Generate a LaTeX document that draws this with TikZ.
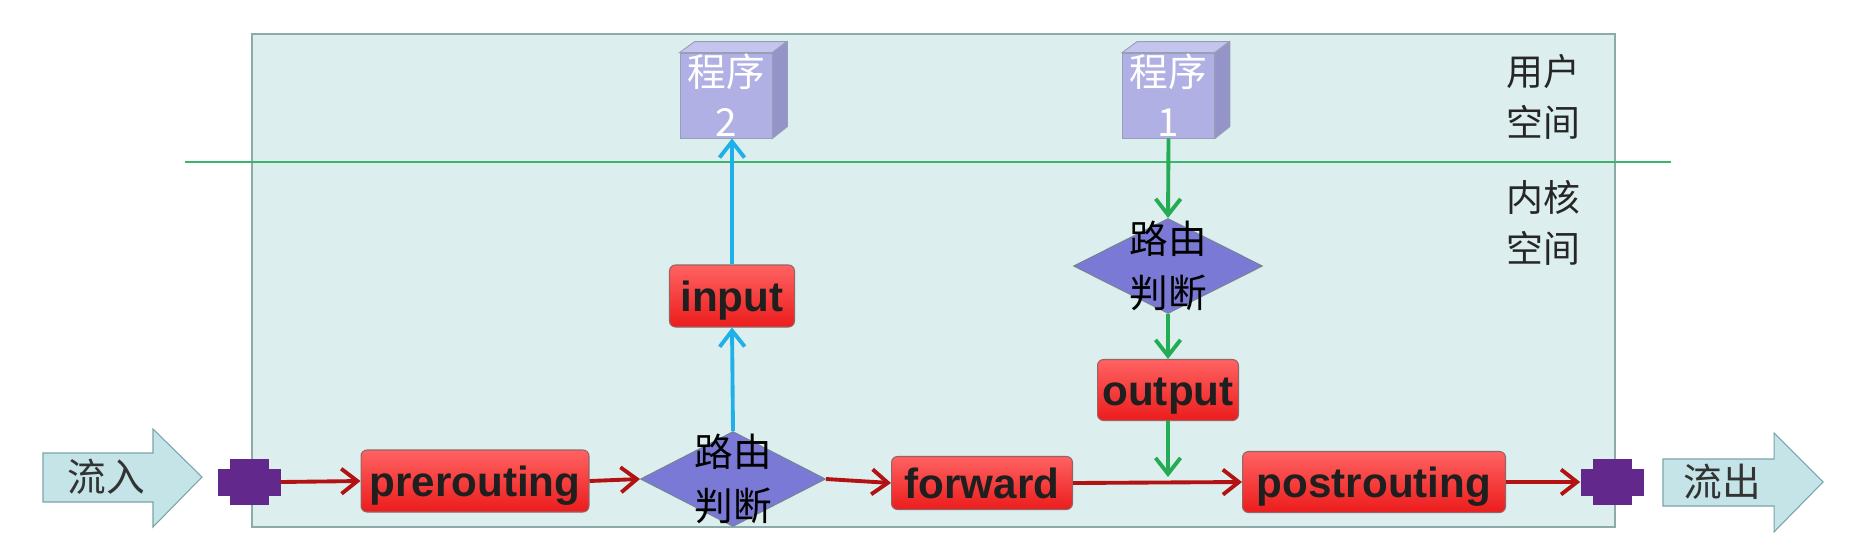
\documentclass[tikz,border=0pt]{standalone}
\usepackage{fontspec}
\setmainfont{Liberation Sans}
\newfontfamily\cjk{Noto Sans CJK SC}
\usetikzlibrary{arrows.meta,shapes.geometric,calc}
\definecolor{boxfill}{RGB}{220,238,238}
\definecolor{boxline}{RGB}{140,170,170}
\definecolor{redtop}{RGB}{255,98,98}
\definecolor{redbot}{RGB}{236,28,28}
\definecolor{redline}{RGB}{150,100,100}
\definecolor{diafill}{RGB}{122,122,214}
\definecolor{diagrey}{RGB}{120,130,150}
\definecolor{cfront}{RGB}{176,176,228}
\definecolor{ctop}{RGB}{196,196,238}
\definecolor{cside}{RGB}{148,148,200}
\definecolor{cline}{RGB}{150,160,180}
\definecolor{arrred}{RGB}{178,18,18}
\definecolor{arrblue}{RGB}{30,176,232}
\definecolor{arrgreen}{RGB}{36,172,84}
\definecolor{divgreen}{RGB}{60,180,110}
\definecolor{flowfill}{RGB}{196,228,232}
\definecolor{flowline}{RGB}{120,165,170}
\definecolor{purp}{RGB}{98,40,140}
\begin{document}
\begin{tikzpicture}[x=0.02cm,y=-0.02cm,
  redbox/.style={rectangle, rounded corners=0.12cm, top color=redtop, bottom color=redbot,
    draw=redline, line width=0.6pt, inner sep=0, text height=0.78cm, text depth=0.18cm,
    font=\bfseries\fontsize{24}{28}\selectfont, text=black!88},
  dia/.style={diamond, draw=diagrey, fill=diafill, inner sep=0, line width=0.6pt},
  diatext/.style={align=center, font=\cjk\fontsize{22}{31}\selectfont, text=black},
  cubebox/.style={rectangle, fill=cfront, draw=cline, line width=0.5pt, inner sep=0,
    minimum width=1.84cm, minimum height=1.7cm},
  cubetext/.style={align=center, font=\cjk\fontsize{22}{28.5}\selectfont, text=white},
  sidetext/.style={align=center, font=\cjk\fontsize{21}{29}\selectfont, text=black!85},
  flowtext/.style={font=\cjk\fontsize{22}{26}\selectfont, text=black!80},
  anchorbox/.style={rectangle, inner sep=0, minimum width=1.26cm, minimum height=0.92cm},
  arrowtip/.style={-{Straight Barb[length=3.2mm,width=5mm]}},
  redarrow/.style={draw=arrred, line width=2.2pt, arrowtip},
  bluearrow/.style={draw=arrblue, line width=2.2pt, arrowtip},
  greenarrow/.style={draw=arrgreen, line width=2.2pt, arrowtip}
]
\useasboundingbox (0,0) rectangle (1875,552);

% main area
\draw[fill=boxfill, draw=boxline, line width=0.6pt] (252,34) rectangle (1615,527);
% divider between user and kernel space
\draw[divgreen, line width=1.4pt] (185,162) -- (1671,162);

% side labels
\node[sidetext] (user) at (1543,97) {用户\\空间};
\node[sidetext] (kern) at (1543,223) {内核\\空间};

% inflow / outflow block arrows
\draw[fill=flowfill, draw=flowline, line width=0.6pt]
  (43,453) -- (153,453) -- (153,429) -- (202,477) -- (153,527) -- (153,502) -- (43,502) -- cycle;
\node[flowtext] (in) at (106,477) {流入};
\draw[fill=flowfill, draw=flowline, line width=0.6pt]
  (1663,459) -- (1774,459) -- (1774,433) -- (1823,482) -- (1774,532) -- (1774,506) -- (1663,506) -- cycle;
\node[flowtext] (out) at (1722,482) {流出};

% purple connectors
\node[anchorbox] (plusL) at (249,482) {};
\node[anchorbox] (plusR) at (1612,482) {};
\foreach \c in {plusL,plusR}{
  \fill[purp] ($(\c.center)+(-19.5,-23)$) rectangle ($(\c.center)+(19.5,23)$);
  \fill[purp] ($(\c.center)+(-31.5,-13.5)$) rectangle ($(\c.center)+(31.5,13.5)$);
}

% programs (cubes)
\node[cubebox] (p2) at (726,95.5) {};
\node[cubebox] (p1) at (1168.5,95.5) {};
\foreach \c in {p1,p2}{
  \filldraw[fill=ctop, draw=cline, line width=0.5pt] (\c.north west) -- ++(15,-11) -- ++(92,0) -- (\c.north east) -- cycle;
  \filldraw[fill=cside, draw=cline, line width=0.5pt] (\c.north east) -- ++(15,-11) -- ++(0,85) -- (\c.south east) -- cycle;
}
\node[cubetext] at (p2) {程序\\2};
\node[cubetext] at (p1) {程序\\1};

% chain boxes
\node[redbox, minimum width=4.56cm, minimum height=1.24cm] (pre) at (475,481) {prerouting};
\node[redbox, minimum width=2.5cm, minimum height=1.24cm] (inp) at (732,296) {input};
\node[redbox, minimum width=3.62cm, minimum height=1.06cm] (fwd) at (982,483) {forward};
\node[redbox, minimum width=2.82cm, minimum height=1.22cm] (outp) at (1168,390) {output};
\node[redbox, minimum width=5.26cm, minimum height=1.22cm] (post) at (1374,482) {postrouting};

% routing decisions
\node[dia, minimum width=3.7cm, minimum height=1.9cm] (d1) at (733,479) {};
\node[diatext] at (d1) {路由\\判断};
\node[dia, minimum width=3.78cm, minimum height=1.9cm] (d2) at (1168,266) {};
\node[diatext] at (d2) {路由\\判断};

\coordinate (gend) at (1168,477);

% connectors
\draw[redarrow] (plusL.east) -- (pre.west);
\draw[redarrow] (pre.east) -- (d1.west);
\draw[redarrow] (d1.east) -- (fwd.west);
\draw[redarrow] (fwd.east) -- (post.west);
\draw[redarrow] (post.east) -- (plusR.west);
\draw[bluearrow] (d1.north) -- (inp.south);
\draw[bluearrow] (inp.north) -- (inp.north |- p2.south);
\draw[greenarrow] (p1.south) -- (d2.north);
\draw[greenarrow] (d2.south) -- (outp.north);
\draw[greenarrow] (outp.south) -- (gend);
\end{tikzpicture}
\end{document}
